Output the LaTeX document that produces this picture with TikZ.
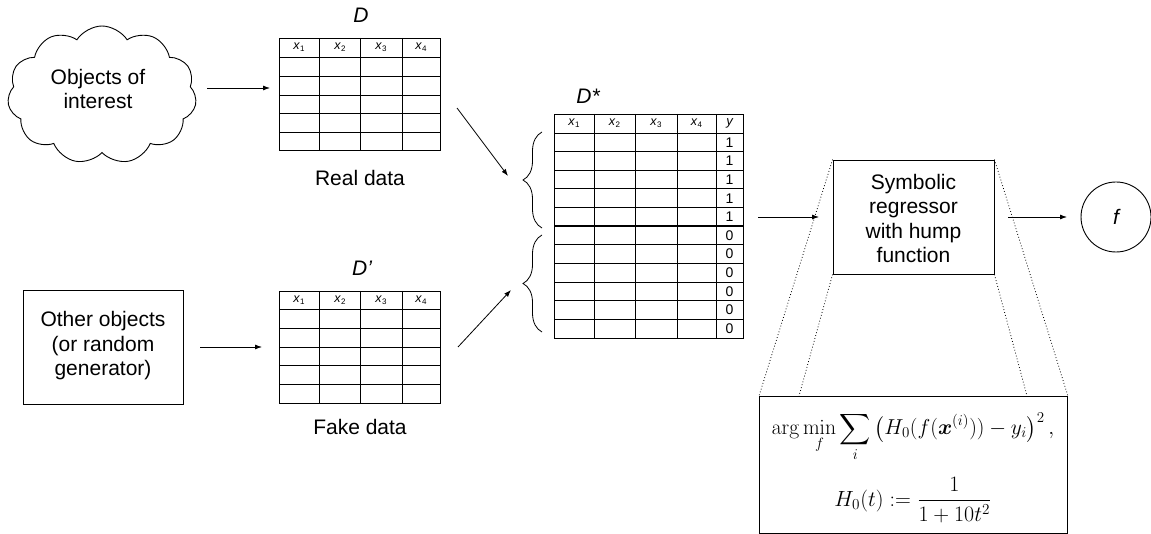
\documentclass[tikz,border=0pt]{standalone}
\usepackage{amsmath}
\usepackage[no-math]{fontspec}
\setmainfont{Liberation Sans}
\usetikzlibrary{shapes.symbols,arrows.meta,decorations.pathreplacing}
\newcommand\xs[1]{\textit{x}\raisebox{-2.5pt}{\fontsize{8}{8}\selectfont #1}}
\tikzset{
  lbl/.style={font=\fontsize{21}{24.5}\selectfont, align=center, inner sep=0pt},
  ital/.style={font=\fontsize{21}{22}\selectfont\itshape, inner sep=0pt},
  hdr/.style={font=\fontsize{12.5}{12.5}\selectfont, inner sep=0pt},
  val/.style={font=\fontsize{14}{14}\selectfont, inner sep=0pt},
  tab/.style={draw, line width=1.1pt, inner sep=0pt, anchor=north west},
  grid/.style={line width=0.9pt},
  arr/.style={line width=0.8pt, -{Latex[length=7pt,width=5pt]}},
  box/.style={draw, line width=0.9pt, inner sep=0pt},
  dots/.style={line width=0.8pt, dash pattern=on 0.8pt off 2.2pt},
  brc/.style={line width=0.8pt, decorate, decoration={brace, amplitude=19pt}}
}
\begin{document}
\begin{tikzpicture}[x=1pt,y=-1pt]
\useasboundingbox (0,0) rectangle (1151,534);

% cloud
\node[cloud, draw, line width=0.9pt, cloud puffs=11, cloud puff arc=115, cloud ignores aspect,
      minimum width=189pt, minimum height=138pt, inner sep=0pt] (cloud) at (102,95) {};
\node[lbl] (cloudtxt) at (98,89) {Objects of\\interest};

% other objects box
\node[box, minimum width=160pt, minimum height=114pt] (other) at (103,347) {};
\node[lbl] (othertxt) at (103,346) {Other objects\\(or random\\generator)};

% table D
\node[tab, minimum width=161pt, minimum height=112pt] (D) at (279,38) {};
\foreach \x in {319,360,402} \draw[grid] (\x,38) -- (\x,150);
\foreach \y in {57,76,95,113,132} \draw[grid] (279,\y) -- (440,\y);
\node[hdr] (d1) at (299,47) {\xs1};
\node[hdr] (d2) at (340,47) {\xs2};
\node[hdr] (d3) at (381,47) {\xs3};
\node[hdr] (d4) at (421,47) {\xs4};
\node[ital] (Dlab) at (361,15) {D};
\node[lbl] (real) at (360,178) {Real data};

% table D'
\node[tab, minimum width=161pt, minimum height=112pt] (Dp) at (279,291) {};
\foreach \x in {319,360,402} \draw[grid] (\x,291) -- (\x,403);
\foreach \y in {309,328,347,365,384} \draw[grid] (279,\y) -- (440,\y);
\node[hdr] (e1) at (299,300) {\xs1};
\node[hdr] (e2) at (340,300) {\xs2};
\node[hdr] (e3) at (381,300) {\xs3};
\node[hdr] (e4) at (421,300) {\xs4};
\node[ital] (Dplab) at (362,268) {D’};
\node[lbl] (fake) at (360,427) {Fake data};

% table D*
\node[tab, minimum width=189pt, minimum height=224pt] (Ds) at (554,114) {};
\foreach \x in {594,635,677,716} \draw[grid] (\x,114) -- (\x,338);
\draw[grid] (554,133) -- (743,133);
\foreach \i in {1,2,3,4,6,7,8,9,10} \draw[grid] (554,{133+18.636*\i}) -- (743,{133+18.636*\i});
\draw[line width=2pt] (554,{133+18.636*5}) -- (743,{133+18.636*5});
\node[hdr] (s1) at (574,123) {\xs1};
\node[hdr] (s2) at (614.5,123) {\xs2};
\node[hdr] (s3) at (656,123) {\xs3};
\node[hdr] (s4) at (696.5,123) {\xs4};
\node[hdr, font=\fontsize{13}{13}\selectfont\itshape] (sy) at (729.5,123) {y};
\foreach \k in {1,...,5} \node[val] (v\k) at (729.5,{133+18.636*(\k-0.5)}) {1};
\foreach \k in {6,...,11} \node[val] (v\k) at (729.5,{133+18.636*(\k-0.5)}) {0};
\node[ital] (Dslab) at (588,96) {D*};

% braces
\draw[brc] (542,228) -- (542,132);
\draw[brc] (542,332) -- (542,235);

% regressor and zoom box
\node[box, minimum width=161pt, minimum height=114pt] (R) at (913.5,217) {};
\coordinate (fl) at (799,396);
\coordinate (fr) at (1027,396);
\node[box, minimum width=308pt, minimum height=137pt, anchor=north west] (F) at (759,396) {};
\draw[dots] (R.north west) -- (F.north west);
\draw[dots] (R.south west) -- (fl);
\draw[dots] (R.north east) -- (F.north east);
\draw[dots] (R.south east) -- (fr);
\node[box, draw=none, fill=white, minimum width=159pt, minimum height=112pt] (Rfill) at (913.5,217) {};
\node[box, minimum width=161pt, minimum height=114pt] (R2) at (913.5,217) {};
\node[lbl] (Rtxt) at (913.5,218.5) {Symbolic\\regressor\\with hump\\function};

\node[circle, draw, line width=0.9pt, minimum size=70pt, inner sep=0pt] (f) at (1116,217) {};
\node[ital] (ftxt) at (1116,217) {f};

% formula
\node[inner sep=0pt] (F1) at (913,437) {\scalebox{1.25}{\LARGE$\displaystyle \arg\min_f \sum_i\, \bigl(H_0(f(\boldsymbol{x}^{(i)}))-y_i\bigr)^2\,,$}};
\node[inner sep=0pt] (F2) at (913,500) {\scalebox{1.27}{\LARGE$\displaystyle H_0(t) := \frac{1}{1+10t^2}$}};

% arrows
\coordinate (a1s) at (207,88); \coordinate (a1e) at (270,88);
\coordinate (a2s) at (200,347); \coordinate (a2e) at (262,347);
\coordinate (a3s) at (457,108); \coordinate (a3e) at (508,176);
\coordinate (a4s) at (458,347); \coordinate (a4e) at (511,290);
\coordinate (a5s) at (758,217); \coordinate (a5e) at (819,217);
\coordinate (a6s) at (1008,217); \coordinate (a6e) at (1067,217);
\draw[arr] (a1s) -- (a1e);
\draw[arr] (a2s) -- (a2e);
\draw[arr] (a3s) -- (a3e);
\draw[arr] (a4s) -- (a4e);
\draw[arr] (a5s) -- (a5e);
\draw[arr] (a6s) -- (a6e);
\end{tikzpicture}
\end{document}
